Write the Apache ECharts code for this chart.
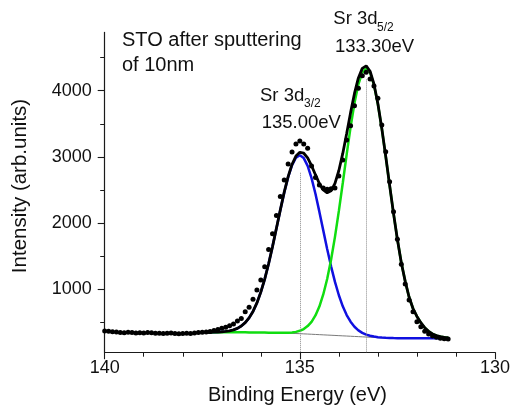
<!DOCTYPE html>
<html><head><meta charset="utf-8">
<script src="https://cdn.jsdelivr.net/npm/echarts@6.0.0/dist/echarts.min.js"></script>
<style>html,body{margin:0;padding:0;background:#fff}#c{width:513px;height:410px}</style>
</head><body><div id="c"></div>
<script>
// measured spectrum (binding energy in eV, intensity in arb. units)
const energy = [140.0,139.9,139.8,139.7,139.6,139.5,139.4,139.3,139.2,139.1,139.0,138.9,138.8,138.7,138.6,138.5,138.4,138.3,138.2,138.1,138.0,137.9,137.8,137.7,137.6,137.5,137.4,137.3,137.2,137.1,137.0,136.9,136.8,136.7,136.6,136.5,136.4,136.3,136.2,136.1,136.0,135.9,135.8,135.7,135.6,135.5,135.4,135.3,135.2,135.1,135.0,134.9,134.8,134.7,134.6,134.5,134.4,134.3,134.2,134.1,134.0,133.9,133.8,133.7,133.6,133.5,133.4,133.3,133.2,133.1,133.0,132.9,132.8,132.7,132.6,132.5,132.4,132.3,132.2,132.1,132.0,131.9,131.8,131.7,131.6,131.5,131.4,131.3,131.2];
const counts = [372,366,358,354,349,343,351,347,339,345,341,349,344,337,335,331,336,340,334,329,332,337,333,341,346,350,356,364,376,392,413,428,448,476,522,560,662,730,849,989,1140,1341,1600,1840,2115,2400,2651,2893,3074,3195,3240,3195,3130,2863,2690,2575,2530,2510,2520,2530,2710,2953,3255,3470,3773,4036,4227,4278,4177,4071,3885,3482,3079,2625,2172,1755,1378,1080,838,662,511,435,366,325,295,275,262,255,249];

// fit curves
const fitEnergy = [137.4,137.3,137.2,137.1,137.0,136.9,136.8,136.7,136.6,136.5,136.4,136.3,136.2,136.1,136.0,135.9,135.8,135.7,135.6,135.5,135.4,135.3,135.2,135.1,135.0,134.9,134.8,134.7,134.6,134.5,134.4,134.3,134.2,134.1,134.0,133.9,133.8,133.7,133.6,133.5,133.4,133.3,133.2,133.1,133.0,132.9,132.8,132.7,132.6,132.5,132.4,132.3,132.2,132.1,132.0,131.9,131.8,131.7,131.6,131.5,131.4,131.3,131.2];
const background = [350,350,350,350,350,350,350,350,350,350,350,349,349,348,347,346,345,344,342,340,338,336,334,332,330,327,324,321,318,315,312,309,306,303,300,297,294,291,288,285,282,279,276,273,270,268,266,264,263,262,261,261,260,260,260,260,260,260,260,260,260,260,260];
const peak32 = [350,351,352,354,357,363,372,387,410,445,496,568,666,794,957,1155,1386,1645,1920,2198,2463,2694,2874,2987,3025,2982,2864,2679,2443,2173,1890,1610,1347,1112,910,743,611,510,434,380,342,316,298,286,277,272,268,265,263,262,261,261,260,260,260,260,260,260,260,260,260,260,260];
const peak52 = [350,350,350,350,350,350,350,350,350,350,350,349,349,348,347,346,345,344,343,342,342,344,348,357,374,400,444,509,606,740,922,1156,1447,1792,2184,2606,3037,3449,3812,4097,4277,4337,4271,4085,3794,3426,3009,2573,2147,1751,1402,1120,880,710,590,495,420,365,325,300,285,275,268];
const fitTotal = [350,351,352,354,357,363,372,387,410,445,496,568,666,794,957,1155,1386,1645,1921,2200,2467,2702,2888,3012,3069,3055,2984,2867,2731,2598,2500,2457,2488,2601,2794,3052,3354,3668,3958,4192,4337,4374,4293,4098,3801,3430,3011,2574,2147,1751,1402,1120,880,710,590,495,420,365,325,300,285,275,268];

// axis ticks
const xMajorTicks = [130,135,140];
const yTickLabels = [1000,2000,3000,4000];
const yMinorTicks = [500,1500,2500,3500,4500];
// peak position markers [energy, top of dotted line]
const peakMarks = [[135.0,2760],[133.3,4170]];

const pairs = (xs, ys) => xs.map((x, i) => [x, ys[i]]);
const FONT = "'Liberation Sans', Arial, sans-serif";
const AX = '#1a1a1a';

const chart = echarts.init(document.getElementById('c'), null, {renderer:'canvas'});
chart.setOption({
  animation:false,
  backgroundColor:'#fff',
  grid:{left:104.7,right:14.7,top:32.4,bottom:57.8,containLabel:false},
  xAxis:{type:'value',min:130,max:140,interval:5,inverse:true,
    axisLine:{show:true,onZero:false,lineStyle:{color:AX,width:1.2}},
    axisTick:{show:true,length:7,lineStyle:{color:AX,width:1.1}},
    minorTick:{show:true,splitNumber:5,length:4.5,lineStyle:{color:AX,width:1}},
    axisLabel:{fontSize:18,color:'#111',margin:7,fontFamily:FONT,formatter:v=>String(v)},
    splitLine:{show:false},minorSplitLine:{show:false}},
  yAxis:[
    {type:'value',min:50,max:4880,position:'left',
     axisLine:{show:true,onZero:false,lineStyle:{color:AX,width:1.2}},
     axisTick:{show:true,length:7,customValues:yTickLabels,lineStyle:{color:AX,width:1.1}},
     axisLabel:{fontSize:18,color:'#111',margin:13,fontFamily:FONT,customValues:yTickLabels,formatter:v=>String(v)},
     splitLine:{show:false}},
    {type:'value',min:50,max:4880,position:'left',
     axisLine:{show:false},
     axisTick:{show:true,length:4.5,customValues:yMinorTicks,lineStyle:{color:AX,width:1}},
     axisLabel:{show:false},splitLine:{show:false}}
  ],
  series:[
    {type:'line',name:'background',data:pairs(fitEnergy,background),showSymbol:false,symbol:'none',
     lineStyle:{color:'#7a7a7a',width:1},z:2,
     markLine:{silent:true,symbol:['none','none'],label:{show:false},
       lineStyle:{type:'dotted',color:'#8a8a8a',width:1},
       data:peakMarks.map(p=>[{coord:[p[0],p[1]]},{coord:[p[0],50]}])}},
    {type:'line',name:'Sr 3d3/2',data:pairs(fitEnergy,peak32),symbol:'none',
     lineStyle:{color:'#1010e0',width:2.5},z:3},
    {type:'line',name:'Sr 3d5/2',data:pairs(fitEnergy,peak52),symbol:'none',
     lineStyle:{color:'#10dd10',width:2.5},z:3},
    {type:'line',name:'fit',data:pairs(fitEnergy,fitTotal),symbol:'none',
     lineStyle:{color:'#000',width:2.8},z:4},
    {type:'scatter',name:'data',data:pairs(energy,counts),symbol:'circle',symbolSize:5,
     itemStyle:{color:'#000',opacity:1},z:5}
  ],
  graphic:[
    {type:'text',style:{text:'STO after sputtering',x:122,y:40,font:'20px '+FONT,fill:'#111',align:'left',verticalAlign:'middle'}},
    {type:'text',style:{text:'of 10nm',x:122,y:65,font:'20px '+FONT,fill:'#111',align:'left',verticalAlign:'middle'}},
    {type:'text',style:{text:'Sr 3d',x:333.3,y:19,font:'18.5px '+FONT,fill:'#111',align:'left',verticalAlign:'middle'}},
    {type:'text',style:{text:'5/2',x:377,y:27.8,font:'12px '+FONT,fill:'#111',align:'left',verticalAlign:'middle'}},
    {type:'text',style:{text:'133.30eV',x:335,y:47,font:'18.5px '+FONT,fill:'#111',align:'left',verticalAlign:'middle'}},
    {type:'text',style:{text:'Sr 3d',x:260,y:95.5,font:'18.5px '+FONT,fill:'#111',align:'left',verticalAlign:'middle'}},
    {type:'text',style:{text:'3/2',x:304,y:103.7,font:'12px '+FONT,fill:'#111',align:'left',verticalAlign:'middle'}},
    {type:'text',style:{text:'135.00eV',x:261.7,y:123.3,font:'18.5px '+FONT,fill:'#111',align:'left',verticalAlign:'middle'}},
    {type:'text',style:{text:'Binding Energy (eV)',x:297.5,y:395,font:'20px '+FONT,fill:'#111',align:'center',verticalAlign:'middle'}},
    {type:'text',rotation:Math.PI/2,x:20,y:186,style:{text:'Intensity (arb.units)',x:0,y:0,font:'20.5px '+FONT,fill:'#111',align:'center',verticalAlign:'middle'}}
  ]
});
</script>
</body></html>
